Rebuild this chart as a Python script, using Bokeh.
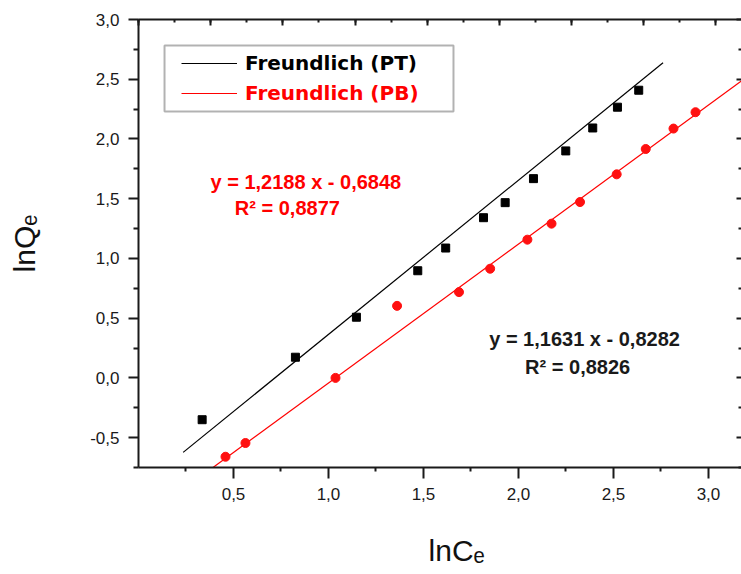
import numpy as np
from bokeh.plotting import figure
from bokeh.models import (Range1d, LinearAxis, FixedTicker, SingleIntervalTicker,
                          Legend, LegendItem, Label, BoxAnnotation)
from bokeh.embed import file_html
from bokeh.resources import INLINE

# ---- data ----
pt_x = [0.335, 0.826, 1.147, 1.470, 1.617, 1.816, 1.930, 2.079, 2.249, 2.391, 2.521, 2.633]
pt_y = [-0.350, 0.173, 0.508, 0.897, 1.087, 1.341, 1.467, 1.668, 1.900, 2.092, 2.266, 2.408]

pb_x = [0.458, 0.563, 1.037, 1.361, 1.687, 1.851, 2.047, 2.174, 2.324, 2.517, 2.670, 2.816, 2.932]
pb_y = [-0.660, -0.545, 0.000, 0.603, 0.718, 0.914, 1.157, 1.291, 1.472, 1.704, 1.916, 2.087, 2.224]

# fitted lines as drawn (slope, intercept, x extent)
pt_fit = (1.291, -0.927)
pt_fit_x = [0.235, 2.761]
pb_fit = (1.163, -1.206)
pb_fit_x = [0.392, 3.30]

x_ticks = [0.5, 1.0, 1.5, 2.0, 2.5, 3.0]
x_tick_labels = ["0,5", "1,0", "1,5", "2,0", "2,5", "3,0"]
y_ticks = [-0.5, 0.0, 0.5, 1.0, 1.5, 2.0, 2.5, 3.0]
y_tick_labels = ["-0,5", "0,0", "0,5", "1,0", "1,5", "2,0", "2,5", "3,0"]

series_names = ["Freundlich (PT)", "Freundlich (PB)"]
eq_pb = ["y = 1,2188 x - 0,6848", "R\u00b2 = 0,8877"]
eq_pt = ["y = 1,1631 x - 0,8282", "R\u00b2 = 0,8826"]

x_label = "lnC\u2091"
y_label = "lnQ\u2091"

# ---- figure ----
AX = "#1a1a1a"
TICK_FONT = "Liberation Sans"

p = figure(width=741, height=574, x_range=Range1d(0, 3.174), y_range=Range1d(-0.75, 3.0),
           output_backend="svg", toolbar_location=None,
           min_border_left=138, min_border_right=0, min_border_top=19, min_border_bottom=107)
p.outline_line_color = None
p.grid.visible = False
p.background_fill_color = "white"
p.border_fill_color = "white"

x_minor = [0.25] + [t + 0.25 for t in x_ticks]
y_minor = [t - 0.25 for t in y_ticks] + [y_ticks[-1] + 0.25]

xa = p.xaxis[0]
xa.ticker = FixedTicker(ticks=x_ticks, minor_ticks=x_minor)
xa.major_label_overrides = dict(zip(x_ticks, x_tick_labels))
ya = p.yaxis[0]
ya.ticker = FixedTicker(ticks=y_ticks, minor_ticks=y_minor)
ya.major_label_overrides = dict(zip(y_ticks, y_tick_labels))

for ax in (xa, ya):
    ax.axis_line_color = AX
    ax.axis_line_width = 2
    ax.major_tick_line_color = AX
    ax.major_tick_line_width = 2
    ax.minor_tick_line_color = AX
    ax.minor_tick_line_width = 2
    ax.major_tick_in = 0
    ax.minor_tick_in = 0
    ax.major_label_text_font = TICK_FONT
    ax.major_label_text_font_size = "17px"
    ax.major_label_text_color = AX
    ax.axis_label_text_font = "Liberation Sans"
    ax.axis_label_text_font_size = "30px"
    ax.axis_label_text_font_style = "normal"
    ax.axis_label_text_color = "#111111"

xa.major_tick_out = 11
xa.minor_tick_out = 4
xa.major_label_standoff = 9
# no-break spaces nudge the centred title right of the frame centre, as in the original
xa.axis_label = "\u00a0" * 4 + x_label
xa.axis_label_standoff = 31

ya.major_tick_out = 10
ya.minor_tick_out = 5
ya.major_label_standoff = 9
ya.axis_label = y_label
ya.axis_label_standoff = 46

# top axis (own tick spacing, no labels)
p.extra_x_ranges = {"top": Range1d(0, 8.355)}
top = LinearAxis(x_range_name="top", ticker=SingleIntervalTicker(interval=1, num_minor_ticks=2),
                 major_tick_in=6, major_tick_out=0, minor_tick_in=3, minor_tick_out=0,
                 axis_line_color=AX, axis_line_width=2,
                 major_tick_line_color=AX, major_tick_line_width=2,
                 minor_tick_line_color=AX, minor_tick_line_width=2,
                 major_label_text_font_size="1px", major_label_text_color=None,
                 major_label_standoff=0)
p.add_layout(top, "above")

right = LinearAxis(ticker=FixedTicker(ticks=y_ticks, minor_ticks=y_minor),
                   major_tick_in=5, major_tick_out=0, minor_tick_in=3, minor_tick_out=0,
                   axis_line_color=None,
                   major_tick_line_color=AX, major_tick_line_width=2,
                   minor_tick_line_color=AX, minor_tick_line_width=2,
                   major_label_text_font_size="1px", major_label_text_color=None,
                   major_label_standoff=0)
p.add_layout(right, "right")

# ---- glyphs ----
ptx = np.array(pt_fit_x)
pbx = np.array(pb_fit_x)
l_pt = p.line(ptx, pt_fit[0] * ptx + pt_fit[1], line_color="black", line_width=1.2)
l_pb = p.line(pbx, pb_fit[0] * pbx + pb_fit[1], line_color="#ff0000", line_width=1.2)

p.scatter(pt_x, pt_y, marker="square", size=8, color="black")
p.scatter(pb_x, pb_y, marker="circle", size=9, color="#ff1010")

# ---- equations ----
def eq_label(x, y, text, color):
    return Label(x=x, y=y, text=text, text_color=color,
                 text_font="Liberation Sans", text_font_size="20px", text_font_style="bold",
                 text_baseline="middle")

p.add_layout(eq_label(0.379, 1.636, eq_pb[0], "#ff0000"))
p.add_layout(eq_label(0.507, 1.426, eq_pb[1], "#ff0000"))
p.add_layout(eq_label(1.846, 0.329, eq_pt[0], "#1a1a1a"))
p.add_layout(eq_label(2.035, 0.095, eq_pt[1], "#1a1a1a"))

# ---- legend: framed box with one borderless legend per row ----
p.add_layout(BoxAnnotation(left=0.137, right=1.658, top=2.783, bottom=2.230,
                           fill_color="white", fill_alpha=1.0,
                           line_color="black", line_width=2, level="annotation"))

def make_legend(renderer, label, color, loc):
    lg = Legend(items=[LegendItem(label=label, renderers=[renderer])], location=loc)
    lg.label_text_font = "DejaVu Sans"
    lg.label_text_font_size = "20px"
    lg.label_text_font_style = "bold"
    lg.label_text_color = color
    lg.glyph_width = 56
    lg.label_standoff = 8
    lg.label_height = 24
    lg.glyph_height = 24
    lg.padding = 0
    lg.spacing = 0
    lg.border_line_color = None
    lg.background_fill_alpha = 0.0
    lg.click_policy = "none"
    return lg

p.add_layout(make_legend(l_pt, series_names[0], "black", (43, 392)))
p.add_layout(make_legend(l_pb, series_names[1], "#ff0000", (43, 362)))

open("out.html", "w").write(file_html(p, INLINE))
